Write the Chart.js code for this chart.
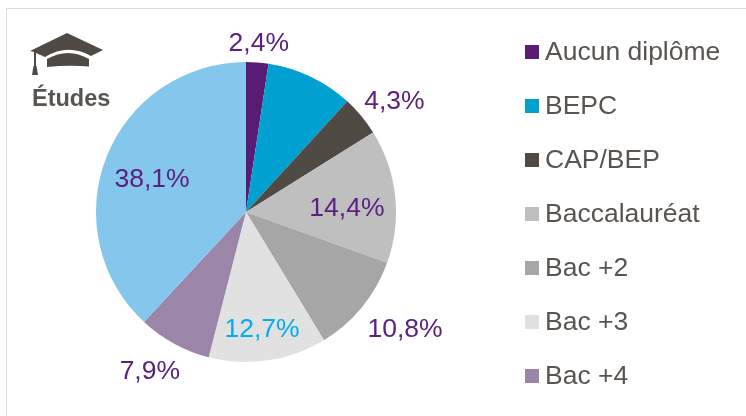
<!DOCTYPE html>
<html>
<head>
<meta charset="utf-8">
<title>Études</title>
<script src="https://cdn.jsdelivr.net/npm/chart.js@4"></script>
<style>
  html, body { margin: 0; padding: 0; background: #fff; }
  #box { position: relative; width: 746px; height: 416px; overflow: hidden; font-family: "Liberation Sans", Arial, sans-serif; color: #595450; }
  #frame { position: absolute; left: 6px; top: 8px; width: 760px; height: 430px; border: 1.5px solid #dcdcdc; box-sizing: border-box; }
  #myChart { position: absolute; left: 0; top: 0; }
  #cap { position: absolute; left: 0; top: 0; }
  #titre { position: absolute; left: 32px; top: 85px; font-size: 23.5px; font-weight: bold; line-height: 26px; }
  #legende { position: absolute; left: 525px; top: 24px; font-size: 26.5px; }
  .item { display: flex; align-items: center; height: 54.1px; }
  .item span { display: block; width: 14px; height: 14px; margin-right: 6px; position: relative; top: 0.5px; }
</style>
</head>
<body>
<div id="box">
  <div id="frame"></div>
  <canvas id="myChart" width="746" height="416"></canvas>
  <svg id="cap" width="120" height="85">
    <path d="M30 51 L67 33 L103 50 L91 56 Q68 43 45 57 L36 53 L36 66 L34 66 L34 52 Z" fill="#504a45"/>
    <path d="M47 67 L47 59 Q68 47 89 59 L89 66.5 Q68 65 47 67 Z" fill="#504a45"/>
    <path d="M33.5 66 L36.5 66 L38 75 L32 75 Z" fill="#504a45"/>
  </svg>
  <div id="titre">Études</div>
  <div id="legende"></div>
</div>
<script>
// valeurs
const categories = ['Aucun diplôme', 'BEPC', 'CAP/BEP', 'Baccalauréat', 'Bac +2', 'Bac +3', 'Bac +4', 'Bac +5'];
const valeurs = [2.4, 9.4, 4.3, 14.4, 10.8, 12.7, 7.9, 38.1];
const etiquettes = ['2,4%', '', '4,3%', '14,4%', '10,8%', '12,7%', '7,9%', '38,1%'];
const couleurs = ['#581c74', '#00a0d0', '#504a45', '#bfbfbf', '#a6a6a6', '#e1e1e1', '#9b85a8', '#85c7ec'];
const couleursEtiquettes = ['#5b2180', '', '#5b2180', '#5b2180', '#5b2180', '#00aeef', '#5b2180', '#5b2180'];
const nbLegende = 7;

// distance au centre et decalage d'angle de chaque etiquette
const rayons = [170, 0, 186, 101, 197, 117, 185, 100];
const decalages = [0, 0, 2.7, 3.3, -3.1, 0.6, 2.7, -1.5];

const etiquettesPlugin = {
  id: 'etiquettes',
  afterDatasetsDraw(chart) {
    const ctx = chart.ctx;
    ctx.save();
    ctx.font = '26.5px "Liberation Sans", Arial, sans-serif';
    ctx.textAlign = 'center';
    ctx.textBaseline = 'middle';
    chart.getDatasetMeta(0).data.forEach((arc, i) => {
      if (!etiquettes[i]) return;
      const p = arc.getProps(['x', 'y', 'startAngle', 'endAngle']);
      const a = (p.startAngle + p.endAngle) / 2 + decalages[i] * Math.PI / 180;
      ctx.fillStyle = couleursEtiquettes[i];
      ctx.fillText(etiquettes[i], p.x + Math.cos(a) * rayons[i], p.y + Math.sin(a) * rayons[i] + 1.5);
    });
    ctx.restore();
  }
};

const ctx = document.querySelector('#myChart');

const chart = new Chart(ctx, {
  type: 'pie',
  data: {
    labels: categories,
    datasets: [{
      data: valeurs,
      backgroundColor: couleurs,
      borderWidth: 0
    }]
  },
  options: {
    responsive: false,
    animation: false,
    layout: { padding: { left: 96, right: 350, top: 62, bottom: 54 } },
    plugins: {
      legend: { display: false },
      tooltip: { enabled: false }
    }
  },
  plugins: [etiquettesPlugin]
});

// legende en html pour garder l'espace exact entre le carre et le texte
const legende = document.querySelector('#legende');
chart.data.labels.slice(0, nbLegende).forEach((nom, i) => {
  const item = document.createElement('div');
  item.className = 'item';
  const carre = document.createElement('span');
  carre.style.background = couleurs[i];
  item.appendChild(carre);
  item.appendChild(document.createTextNode(nom));
  legende.appendChild(item);
});
</script>
</body>
</html>
